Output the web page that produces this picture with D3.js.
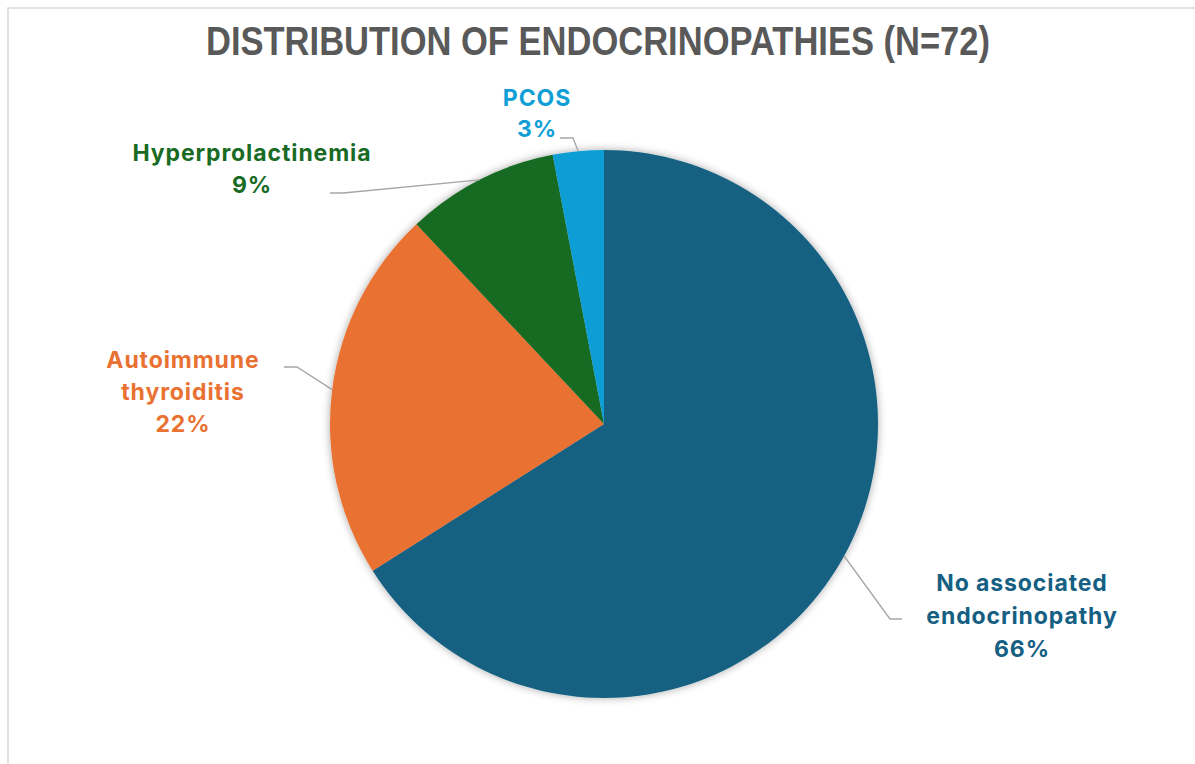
<!DOCTYPE html>
<html>
<head>
<meta charset="utf-8">
<script src="https://cdn.jsdelivr.net/npm/d3@7"></script>
<style>
  body { margin: 0; background: #fff; }
</style>
</head>
<body>
<script>
// chart data
var categories = ['No associated endocrinopathy', 'Autoimmune thyroiditis', 'Hyperprolactinemia', 'PCOS'];
var percents = [66, 22, 9, 3];
var labelLines = [['No associated', 'endocrinopathy', '66%'], ['Autoimmune', 'thyroiditis', '22%'], ['Hyperprolactinemia', '9%'], ['PCOS', '3%']];
var colors = ['#156082', '#E97132', '#196B24', '#0F9ED5'];

// layout: where each label sits and where its leader line bends
var labelPos = [{x: 1022, y: 591, dy: 33, ex: 890, ey: 619, hx: 902}, {x: 183, y: 368, dy: 32, ex: 297, ey: 367, hx: 284},
                {x: 252, y: 161, dy: 32, ex: 343, ey: 193, hx: 330}, {x: 537, y: 106, dy: 31, ex: 573, ey: 138, hx: 560}];

var W = 1195, H = 764;
var cx = 604, cy = 424, R = 274;

var svg = d3.select('body').append('svg').attr('width', W).attr('height', H);

// frame (only top and left visible)
svg.append('rect').attr('x', 8).attr('y', 8).attr('width', W + 20).attr('height', H + 20)
  .attr('fill', 'none').attr('stroke', '#d9d9d9').attr('stroke-width', 1.5);

// soft shadow for the pie
var defs = svg.append('defs');
var f = defs.append('filter').attr('id', 'shadow').attr('x', '-10%').attr('y', '-10%').attr('width', '120%').attr('height', '120%');
f.append('feGaussianBlur').attr('in', 'SourceAlpha').attr('stdDeviation', 4);
f.append('feOffset').attr('dx', 0).attr('dy', 0).attr('result', 'blur');
f.append('feComponentTransfer').append('feFuncA').attr('type', 'linear').attr('slope', 0.35);
var m = f.append('feMerge');
m.append('feMergeNode');
m.append('feMergeNode').attr('in', 'SourceGraphic');

// title - narrow bold, squeezed to fit
svg.append('text').attr('x', 598).attr('y', 55).attr('text-anchor', 'middle')
  .attr('font-family', '"Liberation Sans Narrow", "Arial Narrow", "Liberation Sans", sans-serif')
  .attr('font-weight', 'bold').attr('font-size', 41).attr('fill', '#595959')
  .attr('textLength', 784).attr('lengthAdjust', 'spacingAndGlyphs')
  .text('DISTRIBUTION OF ENDOCRINOPATHIES (N=72)');

var data = categories.map(function(c, i) { return {name: c, value: percents[i], i: i}; });
var pie = d3.pie().sort(null).value(function(d) { return d.value; });
var arc = d3.arc().innerRadius(0).outerRadius(R);
var arcs = pie(data);

var g = svg.append('g').attr('transform', 'translate(' + cx + ',' + cy + ')');
g.append('g').attr('filter', 'url(#shadow)').selectAll('path').data(arcs).enter().append('path')
  .attr('d', arc)
  .attr('fill', function(d) { return colors[d.data.i]; });

// leader lines
svg.selectAll('polyline.leader').data(arcs).enter().append('polyline')
  .attr('class', 'leader')
  .attr('fill', 'none').attr('stroke', '#a6a6a6').attr('stroke-width', 1.3)
  .attr('points', function(d) {
    var a = (d.startAngle + d.endAngle) / 2;
    var p = labelPos[d.data.i];
    var sx = cx + R * Math.sin(a), sy = cy - R * Math.cos(a);
    return sx + ',' + sy + ' ' + p.ex + ',' + p.ey + ' ' + p.hx + ',' + p.ey;
  });

// labels
var lab = svg.selectAll('text.lab').data(arcs).enter().append('text')
  .attr('class', 'lab')
  .attr('text-anchor', 'middle')
  .attr('font-family', 'Inter, "Open Sans", sans-serif')
  .attr('font-weight', 'bold').attr('font-size', 23).attr('letter-spacing', 0.9)
  .attr('fill', function(d) { return colors[d.data.i]; });
lab.each(function(d) {
  var p = labelPos[d.data.i];
  d3.select(this).selectAll('tspan').data(labelLines[d.data.i]).enter().append('tspan')
    .attr('x', p.x).attr('y', function(t, k) { return p.y + k * p.dy; })
    .text(function(t) { return t; });
});
</script>
</body>
</html>
